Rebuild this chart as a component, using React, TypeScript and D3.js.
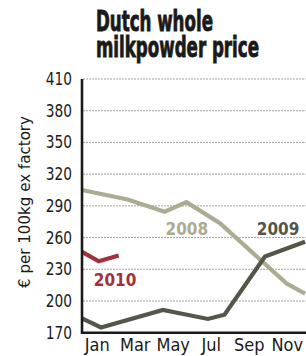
import * as d3 from 'd3';
import React, { useEffect, useRef } from 'react';

const width = 306;
const height = 356;

// month positions (0 = start of Jan) and euro per 100kg
const months2008 = [0, 2.4, 4.35, 5.5, 7.26, 10.77, 11.74];
const values2008 = [305, 296, 284.5, 293.5, 273.5, 216.5, 207];
const months2009 = [0, 1.0, 4.26, 6.63, 7.5, 9.63, 11.74];
const values2009 = [183.5, 175, 191.5, 183, 187, 242, 256];
const months2010 = [0, 0.88, 1.93];
const values2010 = [246.5, 237.5, 243];

const monthLabels = ['Jan', 'Mar', 'May', 'Jul', 'Sep', 'Nov'];
const monthLabelPos = [0.8, 2.8, 4.8, 6.8, 8.8, 10.8];
const yTicks = [170, 200, 230, 260, 290, 320, 350, 380, 410];
const titleLines = ['Dutch whole', 'milkpowder price'];

const cond = '"DejaVu Sans Condensed", "Liberation Sans Narrow", sans-serif';

const App = () => {
  const svgRef = useRef(null);

  const renderSvg = () => {
    const svg = d3.select(svgRef.current);
    svg.selectAll('*').remove();

    const xScale = d3.scaleLinear().domain([0, 12]).range([82, 310]);
    const yScale = d3.scaleLinear().domain([170, 410]).range([332.7, 79]);

    // title, heavy condensed, one text with two lines
    const title = svg
      .append('text')
      .style('font-family', cond)
      .style('font-weight', 'bold')
      .attr('font-size', 29)
      .attr('fill', '#1a1a1a')
      .attr('stroke', '#1a1a1a')
      .attr('stroke-width', 0.9);
    title
      .selectAll('tspan')
      .data(titleLines)
      .enter()
      .append('tspan')
      .attr('x', 0)
      .attr('y', (d, i) => 31 + i * 26)
      .text((d) => d);
    const spans = title.selectAll<SVGTSpanElement, string>('tspan').nodes();
    const w2 = spans[1].getComputedTextLength() || 260;
    title.attr('transform', 'translate(96,0) scale(' + 163 / w2 + ',1)');

    // gridlines
    svg.append('g')
      .selectAll('line')
      .data(yTicks.slice(1))
      .enter()
      .append('line')
      .attr('x1', 83)
      .attr('x2', width)
      .attr('y1', (d) => yScale(d))
      .attr('y2', (d) => yScale(d))
      .attr('stroke', '#8a8a8a')
      .attr('stroke-width', 0.8)
      .attr('stroke-dasharray', '2,1');

    // y tick labels
    svg.append('g')
      .selectAll('text')
      .data(yTicks)
      .enter()
      .append('text')
      .attr('transform', (d) => 'translate(72,' + (yScale(d) + 6) + ') scale(0.85,1)')
      .attr('text-anchor', 'end')
      .style('font-family', cond)
      .attr('font-size', 18)
      .attr('fill', '#1a1a1a')
      .text((d) => d);

    // y title
    svg.append('text')
      .attr('transform', 'translate(30,' + 202 + ') rotate(-90)')
      .attr('text-anchor', 'middle')
      .style('font-family', cond)
      .attr('font-size', 16.5)
      .attr('fill', '#1a1a1a')
      .attr('textLength', 172)
      .attr('lengthAdjust', 'spacingAndGlyphs')
      .text('€ per 100kg ex factory');

    // month labels
    svg.append('g')
      .selectAll('text')
      .data(monthLabels)
      .enter()
      .append('text')
      .attr('x', (d, i) => xScale(monthLabelPos[i]))
      .attr('y', 351)
      .attr('text-anchor', 'middle')
      .style('font-family', cond)
      .attr('font-size', 18)
      .attr('fill', '#1a1a1a')
      .text((d) => d);

    const drawSeries = (ms: number[], vs: number[], color: string) => {
      const pts = ms.map((m, i) => [m, vs[i]] as [number, number]);
      const l = d3
        .line<[number, number]>()
        .x((d) => xScale(d[0]))
        .y((d) => yScale(d[1]));
      svg
        .append('path')
        .datum(pts)
        .attr('d', l)
        .style('fill', 'none')
        .style('stroke', color)
        .style('stroke-width', 4.2)
        .style('stroke-linejoin', 'miter');
    };

    drawSeries(months2008, values2008, '#adab91');
    drawSeries(months2009, values2009, '#55564a');
    drawSeries(months2010, values2010, '#a3303b');

    // series labels
    const yearLabel = (txt: string, m: number, v: number, color: string) => {
      svg.append('text')
        .attr('x', xScale(m))
        .attr('y', yScale(v))
        .attr('text-anchor', 'middle')
        .style('font-family', cond)
        .style('font-weight', 'bold')
        .attr('font-size', 17)
        .attr('fill', color)
        .text(txt);
    };
    yearLabel('2008', 5.52, 262, '#adab91');
    yearLabel('2009', 10.32, 262, '#55564a');
    yearLabel('2010', 1.74, 214, '#a3303b');

    // axes
    svg.append('line')
      .attr('x1', 82).attr('x2', 82)
      .attr('y1', yScale(410)).attr('y2', yScale(170) + 1)
      .attr('stroke', '#1a1a1a').attr('stroke-width', 2.6);
    svg.append('line')
      .attr('x1', 81).attr('x2', width)
      .attr('y1', yScale(170)).attr('y2', yScale(170))
      .attr('stroke', '#1a1a1a').attr('stroke-width', 2.6);
  };

  useEffect(() => {
    renderSvg();
  }, []);

  return (
    <div style={{ position: 'absolute', left: 0, top: 0, background: '#fff' }}>
      <svg ref={svgRef} width={width} height={height} style={{ display: 'block' }} />
    </div>
  );
};

export default App;
